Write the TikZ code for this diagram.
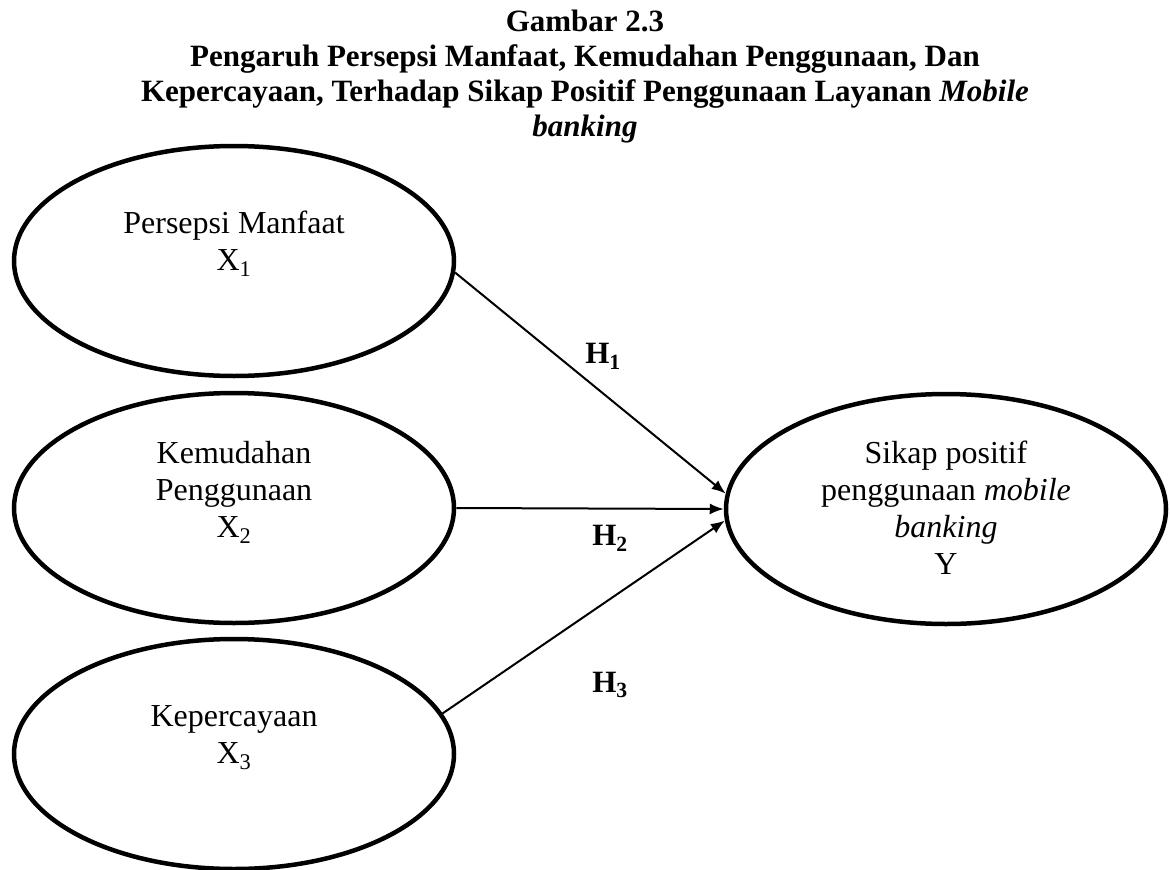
\documentclass[tikz,border=0pt]{standalone}
\usepackage{fontspec}
\setmainfont{Liberation Serif}
\usepackage{tikz}
\usetikzlibrary{arrows.meta, positioning, shapes.geometric}
\usepackage{xcolor}

\newcommand{\diafont}{\fontsize{31}{35}\selectfont}
\newcommand{\varfont}{\fontsize{32}{37}\selectfont}

\begin{document}
\begin{tikzpicture}[
x=1pt, y=-1pt,
var/.style={draw,
ellipse,
line width=4.5pt,
minimum width=440pt,
minimum height=230pt},
vtext/.style={align=center,
anchor=north,
inner sep=0pt,
font=\varfont},
hlabel/.style={inner sep=0pt, font=\diafont\bfseries},
arrow/.style={-{Latex[length=14pt, width=11pt]}, line width=2pt}
]

\useasboundingbox (0,0) rectangle (1170,870);

\node[vtext, font=\diafont\bfseries] (title) at (585,10) {Gambar 2.3\\Pengaruh Persepsi Manfaat, Kemudahan Penggunaan, Dan\\Kepercayaan, Terhadap Sikap Positif Penggunaan Layanan \textit{Mobile}\\\textit{banking}};

\node[var] (x1) at (234,261) {};
\node[var] (x2) at (234,508) {};
\node[var] (x3) at (234,754) {};
\node[var] (y) at (946,509) {};

\node[vtext] (x1text) at (234,211) {Persepsi Manfaat\\X\textsubscript{1}};
\node[vtext] (x2text) at (234,441) {Kemudahan\\Penggunaan\\X\textsubscript{2}};
\node[vtext] (x3text) at (234,705) {Kepercayaan\\X\textsubscript{3}};
\node[vtext] (ytext) at (946,441) {Sikap positif\\penggunaan \textit{mobile}\\\textit{banking}\\Y};

\draw[arrow] (x1.-3) -- (y.176);
\draw[arrow] (x2.east) -- (y.west);
\draw[arrow] (x3.11) -- (y.183);

\node[hlabel] (h1) at (603,356) {H\textsubscript{1}};
\node[hlabel] (h2) at (610,538) {H\textsubscript{2}};
\node[hlabel] (h3) at (610,685) {H\textsubscript{3}};

\end{tikzpicture}
\end{document}
